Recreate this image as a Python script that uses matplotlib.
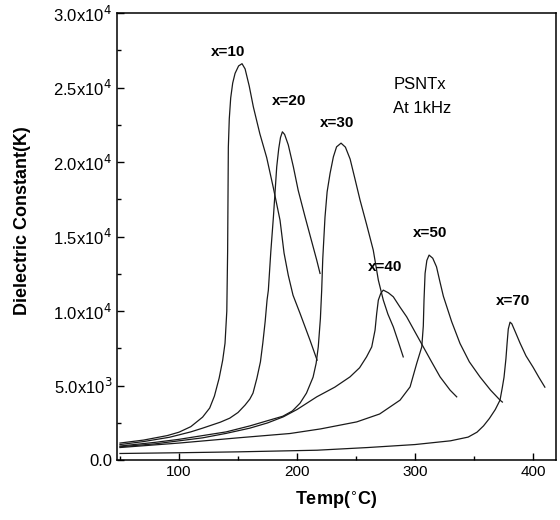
import matplotlib
matplotlib.use("Agg")
import matplotlib.pyplot as plt
from matplotlib.ticker import MultipleLocator, FixedLocator, FixedFormatter

plt.rcParams['font.family'] = ['Liberation Sans', 'DejaVu Sans']

# dielectric constant vs temperature, PSNTx ceramics at 1 kHz
t_x10 = [50, 70, 90, 100, 110, 120, 126, 130, 134, 137, 139, 140.5, 141.2, 141.8,
         142.6, 143.8, 145.5, 147.5, 150.5, 153.4, 156, 159.5, 163, 168.5, 174.3, 180, 185.6,
         189, 192.6, 196.6, 202.5, 211, 217]
k_x10 = [1150, 1350, 1650, 1880, 2250, 2890, 3500, 4300, 5500, 6700, 7850, 10000, 14000, 21000,
         22900, 24300, 25300, 25950, 26450, 26600, 26250, 25100, 23700, 21900, 20300, 18250, 16100,
         13900, 12400, 11070, 9860, 8050, 6710]

t_x20 = [50, 70, 92, 110, 120, 135, 143, 150, 156, 160, 162.7, 166, 169, 171, 173,
         174.6, 175.7, 177.8, 180, 182.8, 184.5, 186, 187.6, 189.5, 192.6, 196.9, 201, 206.8,
         212, 216.7, 219.5]
k_x20 = [1050, 1250, 1540, 1900, 2150, 2550, 2820, 3200, 3700, 4100, 4500, 5500, 6600, 7850, 9300,
         10740, 11400, 14000, 16330, 19680, 20900, 21650, 22030, 21850, 21150, 19680, 18100, 16330,
         14800, 13420, 12530]

t_x30 = [50, 80, 100, 120, 140, 160, 175, 188, 196, 202.5, 208, 213.6, 216.2, 218, 219.8,
         220.9, 221.8, 223.7, 225.5, 228, 230.8, 233.5, 237.3, 241, 245, 249, 253.4, 259,
         264.6, 268.9, 273.1, 277, 281.6, 286, 290]
k_x30 = [950, 1200, 1400, 1650, 1900, 2300, 2650, 2950, 3300, 3820, 4500, 5570, 6500, 7600, 9500,
         11400, 13500, 16300, 18000, 19240, 20350, 21020, 21270, 21000, 20200, 18900, 17450, 15800,
         14090, 12080, 10740, 9800, 8940, 7900, 6930]

t_x40 = [50, 80, 100, 120, 140, 160, 175, 188.4, 200, 216.7, 232, 244.9, 253, 258.9, 263.3,
         266.1, 267.5, 268.9, 271, 273.1, 277.4, 281.6, 287, 292.9, 300, 307, 314, 321.2,
         329.7, 335.3]
k_x40 = [900, 1100, 1300, 1500, 1800, 2150, 2500, 2910, 3400, 4250, 4900, 5590, 6200, 6930, 7600,
         8720, 9840, 10740, 11200, 11410, 11230, 10960, 10300, 9620, 8600, 7600, 6600, 5590,
         4700, 4250]

t_x50 = [50, 100, 150, 194, 220, 250.6, 270, 287.3, 295.8, 301.4, 305.7, 307, 307.6, 308.5,
         310, 311.9, 315, 318.2, 321, 324, 331, 338.1, 346, 355, 364, 372, 374]
k_x50 = [850, 1150, 1500, 1790, 2100, 2570, 3100, 4030, 4920, 6490, 7600, 9000, 10740, 12530,
         13400, 13760, 13550, 12970, 12000, 11000, 9300, 7830, 6600, 5590, 4700, 4030, 3900]

t_x70 = [50, 100, 150, 217, 260, 300, 330, 345, 352.5, 358, 363, 368, 372, 374, 375.4, 377,
         378, 379, 380.5, 382, 385, 389, 394, 400, 405, 410]
k_x70 = [450, 500, 560, 670, 850, 1050, 1300, 1550, 1880, 2300, 2800, 3400, 4030, 4900, 5570, 6800,
         7850, 8800, 9260, 9150, 8600, 7850, 7000, 6240, 5550, 4900]

curves = [(t_x10, k_x10), (t_x20, k_x20), (t_x30, k_x30),
          (t_x40, k_x40), (t_x50, k_x50), (t_x70, k_x70)]

curve_labels = ['x=10', 'x=20', 'x=30', 'x=40', 'x=50', 'x=70']
label_t = [141.5, 193, 234, 274.6, 312.7, 383]
label_k = [27400, 24100, 22600, 12950, 15230, 10670]

y_ticks = [0, 5000, 10000, 15000, 20000, 25000, 30000]
y_tick_labels = ['0.0', '5.0x10$^3$', '1.0x10$^4$', '1.5x10$^4$',
                 '2.0x10$^4$', '2.5x10$^4$', '3.0x10$^4$']
x_ticks = [100, 200, 300, 400]

fig = plt.figure(figsize=(5.6, 5.2), dpi=100)
ax = fig.add_axes([0.209, 0.115, 0.784, 0.86])

for t, k in curves:
    ax.plot(t, k, color='#1a1a1a', lw=0.9)

for name, tx, ky in zip(curve_labels, label_t, label_k):
    ax.text(tx, ky, name, fontsize=11, fontweight='bold', ha='center', va='center')

ax.text(281.5, 25230, 'PSNTx', fontsize=12, ha='left', va='center')
ax.text(281.5, 23620, 'At 1kHz', fontsize=12, ha='left', va='center')

ax.set_xlim(47.5, 419.5)
ax.set_ylim(0, 30000)

ax.xaxis.set_major_locator(FixedLocator(x_ticks))
ax.xaxis.set_minor_locator(MultipleLocator(50))
ax.yaxis.set_major_locator(FixedLocator(y_ticks))
ax.yaxis.set_major_formatter(FixedFormatter(y_tick_labels))
ax.yaxis.set_minor_locator(MultipleLocator(2500))

ax.tick_params(which='both', direction='in', width=1.0)
ax.tick_params(axis='x', labelsize=11)
ax.tick_params(axis='y', labelsize=12)
ax.tick_params(which='major', length=5)
ax.tick_params(which='minor', length=3)
for s in ax.spines.values():
    s.set_linewidth(1.1)

ax.set_xlabel('Temp($^{\\circ}$C)', fontsize=13, fontweight='bold', labelpad=8)
ax.set_ylabel('Dielectric Constant(K)', fontsize=13, fontweight='bold')
ax.yaxis.set_label_coords(-0.196, 0.535)

fig.savefig('out.png', dpi=100)
